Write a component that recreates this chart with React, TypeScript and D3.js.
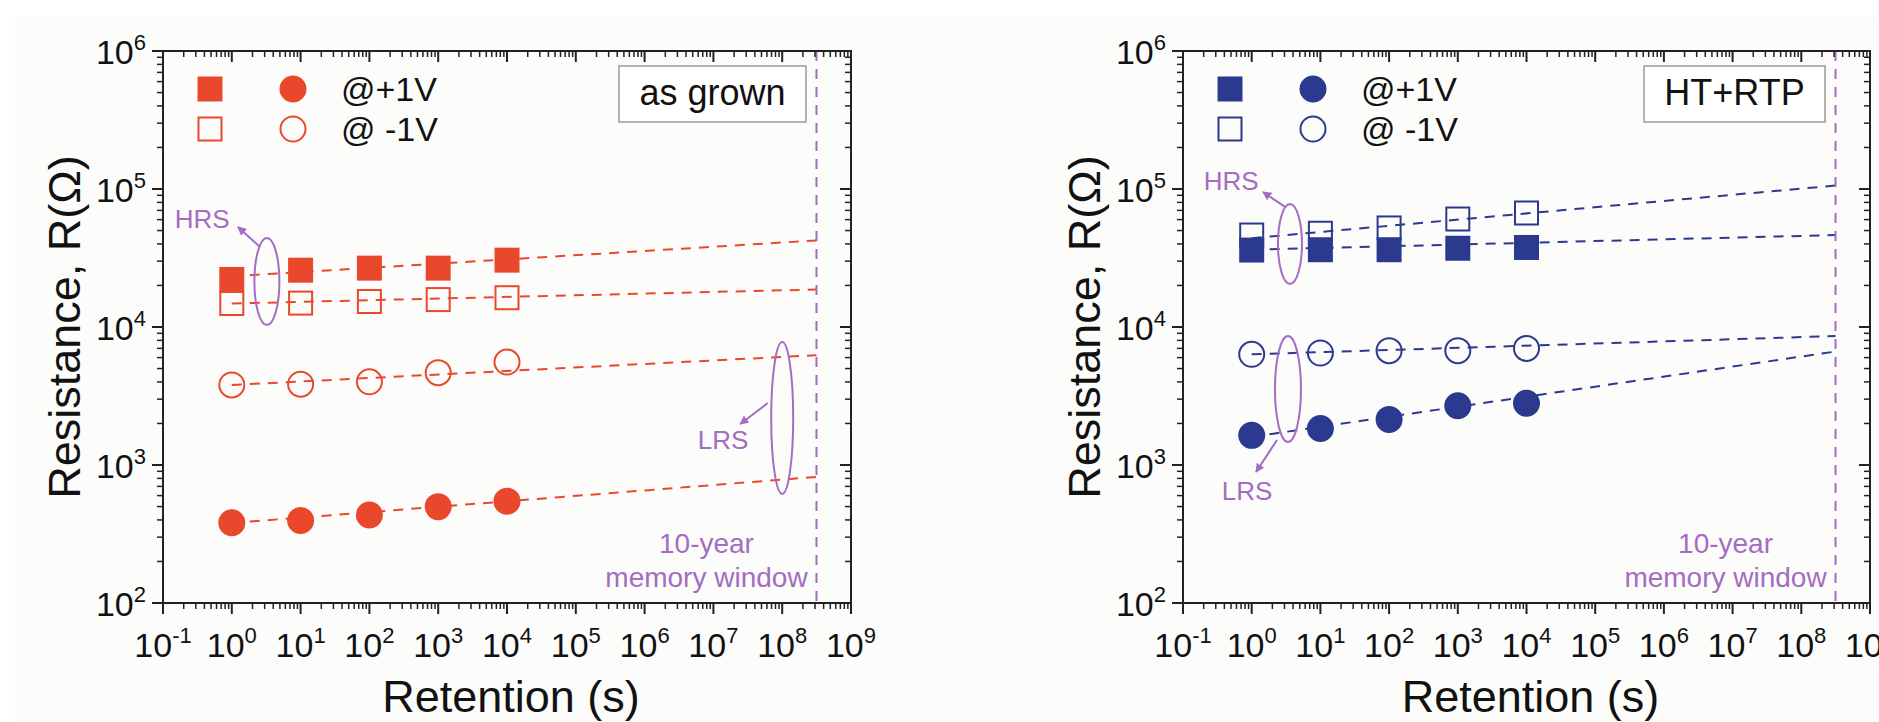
import React from 'react';
import * as d3 from 'd3';

// retention times (s) and the 10-year point where the fits end
const retention = [1, 10, 100, 1000, 10000];
const tenYears = 3.15e8;

const xDecades = [-1, 0, 1, 2, 3, 4, 5, 6, 7, 8, 9];
const yDecades = [2, 3, 4, 5, 6];

// "as grown" sample, R in ohm
const agHrsPos = [22100, 25800, 26700, 26700, 30500]; // filled squares @+1V
const agHrsNeg = [14800, 14900, 15300, 15800, 16300]; // open squares @-1V
const agLrsNeg = [3800, 3850, 4010, 4670, 5570]; // open circles @-1V
const agLrsPos = [382, 396, 434, 499, 547]; // filled circles @+1V
// fit lines: [R at 1 s, R at 10 years]
const agFitHrsPos = [23300, 42400];
const agFitHrsNeg = [14800, 18700];
const agFitLrsNeg = [3800, 6250];
const agFitLrsPos = [380, 820];

// "HT+RTP" sample
const htHrsPos = [36100, 36300, 36300, 37200, 37700];
const htHrsNeg = [46400, 47800, 52200, 60600, 67000];
const htLrsNeg = [6340, 6480, 6740, 6740, 7000];
const htLrsPos = [1640, 1840, 2140, 2690, 2800];
const htFitHrsPos = [36300, 46400];
const htFitHrsNeg = [44000, 106000];
const htFitLrsNeg = [6340, 8600];
const htFitLrsPos = [1600, 6640];

const RED = '#e9482d';
const BLUE = '#2b3a8f';
const PURPLE = '#a46cc2';
const FONT = '"Liberation Sans", Arial, sans-serif';

const top = 51;
const bottom = 603;

type Shape = 'square' | 'circle';

function Marker({ x, y, shape, filled, color }: any) {
  const fill = filled ? color : 'none';
  if (shape === 'square') {
    return <rect x={x - 11.5} y={y - 11.5} width={23} height={23} fill={fill} stroke={color} strokeWidth={2} />;
  }
  return <circle cx={x} cy={y} r={12.5} fill={fill} stroke={color} strokeWidth={2} />;
}

function Panel({ x0, x1, color, series, label, boxWidth, notes }: any) {
  const x = d3.scaleLog().domain([0.1, 1e9]).range([x0, x1]);
  const y = d3.scaleLog().domain([100, 1e6]).range([bottom, top]);
  const lx = (v: number) => x(Math.pow(10, v));
  const ly = (v: number) => y(Math.pow(10, v));

  const xMinor: number[] = [];
  xDecades.slice(0, -1).forEach(d => d3.range(2, 10).forEach(m => xMinor.push(m * Math.pow(10, d))));
  const yMinor: number[] = [];
  yDecades.slice(0, -1).forEach(d => d3.range(2, 10).forEach(m => yMinor.push(m * Math.pow(10, d))));

  const fitLine = d3.line<[number, number]>().x(d => x(d[0])).y(d => y(d[1]));
  const xTen = x(tenYears);
  const markerId = 'arrow-' + Math.round(x0);

  return (
    <g fontFamily={FONT}>
      <defs>
        <marker id={markerId} viewBox="0 0 10 10" refX={9} refY={5} markerWidth={9} markerHeight={9} orient="auto" markerUnits="userSpaceOnUse">
          <path d="M0,0 L10,5 L0,10 z" fill={PURPLE} />
        </marker>
      </defs>

      {/* fit lines */}
      {series.map((s: any, i: number) => (
        <path key={'f' + i} d={fitLine([[1, s.fit[0]], [tenYears, s.fit[1]]]) || ''} fill="none" stroke={color} strokeWidth={2} strokeDasharray="10,8" />
      ))}

      {/* markers */}
      {series.map((s: any, i: number) =>
        s.values.map((v: number, j: number) => (
          <Marker key={'m' + i + '-' + j} x={x(retention[j])} y={y(v)} shape={s.shape} filled={s.filled} color={color} />
        ))
      )}

      {/* 10-year line */}
      <line x1={xTen} x2={xTen} y1={top} y2={bottom} stroke={PURPLE} strokeWidth={2} strokeDasharray="10,8" />
      <text x={xTen - 110} y={553} fontSize={28} fill={PURPLE} textAnchor="middle">10-year</text>
      <text x={xTen - 110} y={587} fontSize={28} fill={PURPLE} textAnchor="middle">memory window</text>

      {/* HRS / LRS annotations */}
      {notes.map((n: any, i: number) => {
        const cy = (ly(n.ellipse[1]) + ly(n.ellipse[2])) / 2;
        const ry = (ly(n.ellipse[2]) - ly(n.ellipse[1])) / 2;
        return (
          <g key={'n' + i}>
            <ellipse cx={lx(n.ellipse[0])} cy={cy} rx={n.rx} ry={ry} fill="none" stroke={PURPLE} strokeWidth={2} />
            <line x1={lx(n.arrow[0])} y1={ly(n.arrow[1])} x2={lx(n.arrow[2])} y2={ly(n.arrow[3])} stroke={PURPLE} strokeWidth={2} markerEnd={`url(#${markerId})`} />
            <text x={lx(n.text[0])} y={ly(n.text[1])} fontSize={26} fill={PURPLE} textAnchor="middle">{n.label}</text>
          </g>
        );
      })}

      {/* legend */}
      <Marker x={x0 + 47} y={89} shape="square" filled color={color} />
      <Marker x={x0 + 130} y={89} shape="circle" filled color={color} />
      <text x={x0 + 178} y={101} fontSize={34} fill="#111">@+1V</text>
      <Marker x={x0 + 47} y={129} shape="square" filled={false} color={color} />
      <Marker x={x0 + 130} y={129} shape="circle" filled={false} color={color} />
      <text x={x0 + 178} y={141} fontSize={34} fill="#111" xmlSpace="preserve">@ -1V</text>

      {/* sample box */}
      <rect x={x1 - 45 - boxWidth} y={66} width={boxWidth} height={56} fill="#fff" stroke="#999" strokeWidth={1.5} />
      <text x={x1 - 45 - boxWidth / 2} y={105} fontSize={36} fill="#111" textAnchor="middle">{label}</text>

      {/* frame */}
      <rect x={x0} y={top} width={x1 - x0} height={bottom - top} fill="none" stroke="#222" strokeWidth={2} />

      {/* x ticks: bottom outward, top inward */}
      {xDecades.map(d => (
        <g key={'xt' + d}>
          <line x1={lx(d)} x2={lx(d)} y1={bottom} y2={bottom + 11} stroke="#222" strokeWidth={2} />
          <line x1={lx(d)} x2={lx(d)} y1={top} y2={top + 11} stroke="#222" strokeWidth={2} />
          <text x={lx(d)} y={657} fontSize={34} fill="#111" textAnchor="middle">
            10<tspan dy={-14} fontSize={22}>{d}</tspan>
          </text>
        </g>
      ))}
      {xMinor.map((v, i) => (
        <g key={'xm' + i}>
          <line x1={x(v)} x2={x(v)} y1={bottom} y2={bottom + 6} stroke="#222" strokeWidth={1.5} />
          <line x1={x(v)} x2={x(v)} y1={top} y2={top + 6} stroke="#222" strokeWidth={1.5} />
        </g>
      ))}

      {/* y ticks: left outward, right inward */}
      {yDecades.map(d => (
        <g key={'yt' + d}>
          <line x1={x0 - 11} x2={x0} y1={ly(d)} y2={ly(d)} stroke="#222" strokeWidth={2} />
          <line x1={x1 - 11} x2={x1} y1={ly(d)} y2={ly(d)} stroke="#222" strokeWidth={2} />
          <text x={x0 - 17} y={ly(d) + 13} fontSize={34} fill="#111" textAnchor="end">
            10<tspan dy={-14} fontSize={22}>{d}</tspan>
          </text>
        </g>
      ))}
      {yMinor.map((v, i) => (
        <g key={'ym' + i}>
          <line x1={x0 - 6} x2={x0} y1={y(v)} y2={y(v)} stroke="#222" strokeWidth={1.5} />
          <line x1={x1 - 6} x2={x1} y1={y(v)} y2={y(v)} stroke="#222" strokeWidth={1.5} />
        </g>
      ))}

      {/* axis titles */}
      <text x={(x0 + x1) / 2 + 4} y={712} fontSize={45} fill="#111" textAnchor="middle">Retention (s)</text>
      <text transform={`translate(${x0 - 83},${(top + bottom) / 2}) rotate(-90)`} fontSize={45} fill="#111" textAnchor="middle">
        Resistance, R(Ω)
      </text>
    </g>
  );
}

export default function App() {
  const asGrown = [
    { values: agHrsNeg, fit: agFitHrsNeg, shape: 'square' as Shape, filled: false },
    { values: agHrsPos, fit: agFitHrsPos, shape: 'square' as Shape, filled: true },
    { values: agLrsNeg, fit: agFitLrsNeg, shape: 'circle' as Shape, filled: false },
    { values: agLrsPos, fit: agFitLrsPos, shape: 'circle' as Shape, filled: true },
  ];
  const htRtp = [
    { values: htHrsNeg, fit: htFitHrsNeg, shape: 'square' as Shape, filled: false },
    { values: htHrsPos, fit: htFitHrsPos, shape: 'square' as Shape, filled: true },
    { values: htLrsNeg, fit: htFitLrsNeg, shape: 'circle' as Shape, filled: false },
    { values: htLrsPos, fit: htFitLrsPos, shape: 'circle' as Shape, filled: true },
  ];

  // annotation positions in log10 units: ellipse [t, Rtop, Rbottom], arrow [t1, R1, t2, R2], text [t, R]
  const agNotes = [
    { label: 'HRS', ellipse: [0.51, 4.645, 4.014], rx: 12.5, arrow: [0.41, 4.58, 0.09, 4.725], text: [-0.43, 4.717] },
    { label: 'LRS', ellipse: [8.0, 3.891, 2.79], rx: 11, arrow: [7.79, 3.449, 7.39, 3.297], text: [7.14, 3.116] },
  ];
  const htNotes = [
    { label: 'HRS', ellipse: [0.557, 4.891, 4.312], rx: 12, arrow: [0.485, 4.87, 0.164, 4.978], text: [-0.3, 4.993] },
    { label: 'LRS', ellipse: [0.528, 3.935, 3.167], rx: 13, arrow: [0.368, 3.181, 0.063, 2.949], text: [-0.068, 2.746] },
  ];

  return (
    <svg width={1879} height={722} style={{ position: 'absolute', left: 0, top: 0, background: '#fff' }}>
      <rect x={15} y={17} width={1864} height={705} fill="#fcfcfa" />
      <Panel x0={163} x1={851} color={RED} series={asGrown} label="as grown" boxWidth={187} notes={agNotes} />
      <Panel x0={1183} x1={1870} color={BLUE} series={htRtp} label="HT+RTP" boxWidth={181} notes={htNotes} />
    </svg>
  );
}
